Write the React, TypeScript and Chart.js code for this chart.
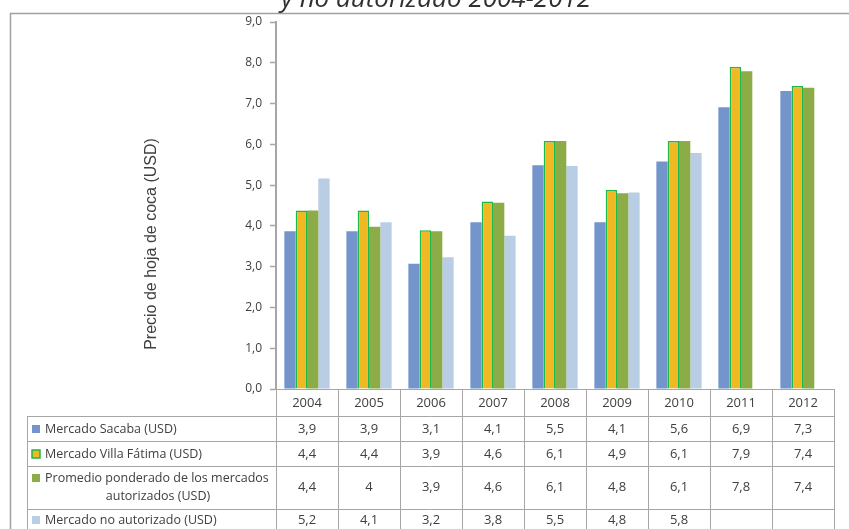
import React, { useEffect, useRef } from "react";
import { Chart, registerables } from "chart.js";

Chart.register(...registerables);

const years = ["2004", "2005", "2006", "2007", "2008", "2009", "2010", "2011", "2012"];
const sacaba = [3.87, 3.87, 3.07, 4.09, 5.49, 4.09, 5.58, 6.91, 7.31];
const villaFatima = [4.38, 4.38, 3.89, 4.6, 6.08, 4.88, 6.08, 7.9, 7.43];
const promedio = [4.38, 3.98, 3.87, 4.57, 6.08, 4.8, 6.08, 7.79, 7.39];
const noAutorizado = [5.16, 4.09, 3.23, 3.76, 5.47, 4.82, 5.79, null, null];

const seriesNames = [
  "Mercado Sacaba (USD)",
  "Mercado Villa Fátima (USD)",
  "Promedio ponderado de los mercados|autorizados (USD)",
  "Mercado no autorizado (USD)",
];
const titleText = "y no autorizado 2004-2012";
const yTitle = "Precio de hoja de coca (USD)";

const COLORS = ["#7395CB", "#F0B823", "#8BAC46", "#B9CDE5"];
const FONT = "'Open Sans', sans-serif";
const TEXT = "#404040";
const LINE = "#A6A6A6";

const fmt = (v: number | null) =>
  v === null || v === undefined ? "" : Number(v.toFixed(1)).toString().replace(".", ",");

const tablePlugin = {
  id: "tablePlugin",
  afterDraw(chart: any) {
    const ctx = chart.ctx as CanvasRenderingContext2D;
    const area = chart.chartArea;
    const W = chart.width;
    const H = chart.height;
    ctx.save();
    // outer border
    ctx.strokeStyle = "#A0A0A0";
    ctx.lineWidth = 1.5;
    ctx.strokeRect(10.5, 13.5, W + 20, H + 20);

    // title (cut off at top)
    ctx.fillStyle = "#303030";
    ctx.font = `italic 26px ${FONT}`;
    ctx.textAlign = "center";
    ctx.textBaseline = "alphabetic";
    ctx.fillText(titleText, 436, 7);

    // y title
    ctx.save();
    ctx.translate(152, 244);
    ctx.rotate(-Math.PI / 2);
    ctx.fillStyle = TEXT;
    ctx.font = `16px 'Liberation Sans', Arial, sans-serif`;
    ctx.textAlign = "center";
    ctx.textBaseline = "middle";
    ctx.fillText(yTitle, 0, 0);
    ctx.restore();

    // table
    const top = area.bottom;
    const rowY = [top, 416, 441, 466, 509, H + 5];
    const left = area.left;
    const n = years.length;
    const colW = (area.right - area.left) / n;
    const tabLeft = 27;
    ctx.strokeStyle = LINE;
    ctx.lineWidth = 1;
    ctx.beginPath();
    for (let i = 0; i <= n; i++) {
      const x = Math.round(left + i * colW) + 0.5;
      ctx.moveTo(x, top);
      ctx.lineTo(x, H);
    }
    ctx.moveTo(tabLeft + 0.5, rowY[1]);
    ctx.lineTo(tabLeft + 0.5, H);
    for (let r = 1; r <= 4; r++) {
      ctx.moveTo(tabLeft, rowY[r] + 0.5);
      ctx.lineTo(area.right, rowY[r] + 0.5);
    }
    ctx.stroke();

    ctx.font = `13px ${FONT}`;
    ctx.fillStyle = TEXT;
    ctx.textAlign = "center";
    ctx.textBaseline = "middle";
    years.forEach((y, i) => {
      ctx.fillText(y, left + (i + 0.5) * colW, 403);
    });
    const data = [sacaba, villaFatima, promedio, noAutorizado];
    const valueY = [429, 454, 487, 520];
    data.forEach((arr, r) => {
      arr.forEach((v, i) => {
        ctx.fillText(fmt(v as any), left + (i + 0.5) * colW, valueY[r]);
      });
    });

    // labels with keys
    ctx.font = `12.5px ${FONT}`;
    const labelFirstY = [429, 454, 478, 520];
    seriesNames.forEach((name, r) => {
      const lines = name.split("|");
      const y = labelFirstY[r];
      ctx.fillStyle = COLORS[r];
      ctx.fillRect(32, y - 4, 8, 8);
      if (r === 1) {
        ctx.strokeStyle = "#1DB84A";
        ctx.lineWidth = 1.5;
        ctx.strokeRect(32, y - 4, 8, 8);
      }
      ctx.fillStyle = TEXT;
      ctx.textAlign = "left";
      ctx.fillText(lines[0], 45, y);
      if (lines[1]) {
        ctx.textAlign = "center";
        ctx.fillText(lines[1], 158, 496);
      }
    });
    ctx.restore();
  },
};

export default function App() {
  const ref = useRef<HTMLCanvasElement | null>(null);
  useEffect(() => {
    if (!ref.current) return;
    const chart = new Chart(ref.current, {
      type: "bar",
      data: {
        labels: years,
        datasets: [
          { label: seriesNames[0], data: sacaba, backgroundColor: COLORS[0] },
          {
            label: seriesNames[1],
            data: villaFatima,
            backgroundColor: COLORS[1],
            borderColor: "#1DB84A",
            borderWidth: { top: 1.5, left: 1.5, right: 1.5, bottom: 0 } as any,
          },
          { label: seriesNames[2], data: promedio, backgroundColor: COLORS[2] },
          { label: seriesNames[3], data: noAutorizado as any, backgroundColor: COLORS[3] },
        ],
      },
      options: {
        animation: false,
        responsive: true,
        maintainAspectRatio: false,
        datasets: { bar: { categoryPercentage: 0.73, barPercentage: 1.0 } },
        layout: { padding: { top: 22, right: 15, bottom: 0, left: 0 } },
        plugins: { legend: { display: false }, tooltip: { enabled: false }, title: { display: false } },
        scales: {
          x: {
            grid: { display: false },
            border: { display: true, color: LINE, width: 1 },
            ticks: { display: false },
            afterFit: (s: any) => {
              s.height = 140;
            },
          },
          y: {
            min: 0,
            max: 9,
            ticks: {
              stepSize: 1,
              padding: 8,
              color: TEXT,
              font: { family: "'Open Sans', sans-serif", size: 12 },
              callback: (v: any) => Number(v).toFixed(1).replace(".", ","),
            },
            grid: { drawOnChartArea: false, tickLength: 6, color: LINE, tickWidth: 1.5 } as any,
            border: { display: true, color: LINE, width: 2 },
            afterFit: (s: any) => {
              s.width = 276;
            },
          },
        },
      },
      plugins: [tablePlugin],
    });
    return () => chart.destroy();
  }, []);
  return (
    <div style={{ position: "absolute", left: 0, top: 0, width: 849, height: 529, background: "#fff" }}>
      <canvas ref={ref} />
    </div>
  );
}
